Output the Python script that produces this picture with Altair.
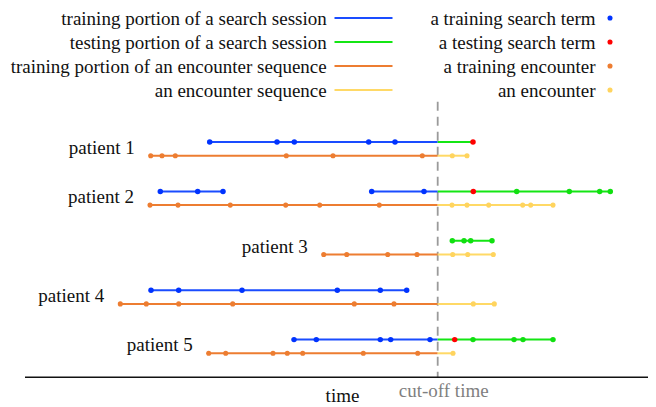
import altair as alt
import pandas as pd

FONT = "Liberation Serif"
CUTOFF = 437.7

patients = ["patient 1", "patient 2", "patient 3", "patient 4", "patient 5"]

# search sessions (times of search terms), one list per session
search_sessions = {
    "patient 1": [[209.7, 277.0, 294.3, 368.7, 395.0, 473.0]],
    "patient 2": [[160.3, 197.7, 223.0],
                  [371.7, 424.0, 473.3, 516.7, 569.3, 599.7, 610.3]],
    "patient 3": [[452.3, 464.0, 470.7, 492.0]],
    "patient 4": [[151.0, 178.7, 242.0, 337.3, 380.3, 406.7]],
    "patient 5": [[294.0, 316.3, 380.3, 390.7, 430.0, 454.7, 473.0, 514.0, 523.0, 553.0]],
}

# encounter times
encounters = {
    "patient 1": [150.7, 162.0, 175.3, 286.3, 333.0, 422.3, 452.3, 467.0],
    "patient 2": [150.0, 178.0, 230.3, 285.7, 319.7, 379.3, 452.0, 467.0, 488.7, 522.7, 530.7, 553.0],
    "patient 3": [323.7, 346.7, 387.7, 417.0, 452.7, 467.7, 493.3],
    "patient 4": [120.3, 146.3, 178.7, 232.7, 354.3, 394.0, 473.3, 494.3],
    "patient 5": [208.7, 225.7, 273.0, 287.3, 302.7, 363.3, 417.7, 453.0],
}

legend_left = ["training portion of a search session",
               "testing portion of a search session",
               "training portion of an encounter sequence",
               "an encounter sequence"]
legend_left_kind = ["train_search", "test_search", "train_enc", "enc"]
legend_right = ["a training search term", "a testing search term",
                "a training encounter", "an encounter"]
legend_right_kind = ["train_term", "test_term", "train_enc_pt", "enc_pt"]

kinds = ["train_search", "test_search", "train_enc", "enc",
         "train_term", "test_term", "test_other", "train_enc_pt", "enc_pt"]
kind_colors = ["#1a4cff", "#14e614", "#ed7d31", "#ffd966",
               "#0033ff", "#ff0000", "#10e010", "#ed7d31", "#ffd45e"]
color_scale = alt.Scale(domain=kinds, range=kind_colors)

TRACK_GAP = 0.277  # search track sits above the encounter track

pts, segs, labels = [], [], []
for i, p in enumerate(patients):
    lane_s = i - TRACK_GAP
    lane_e = i
    for sess in search_sessions[p]:
        started_before = sess[0] < CUTOFF
        first_after = True
        for t in sess:
            if t < CUTOFF:
                k = "train_term"
            elif started_before and first_after:
                k = "test_term"
                first_after = False
            else:
                k = "test_other"
                first_after = False
            pts.append(dict(t=t, lane=lane_s, kind=k, grp="s"))
        s, e = sess[0], sess[-1]
        if s < CUTOFF:
            segs.append(dict(t=s, t2=min(e, CUTOFF), lane=lane_s, kind="train_search"))
        if e > CUTOFF:
            segs.append(dict(t=max(s, CUTOFF), t2=e, lane=lane_s, kind="test_search"))
    enc = encounters[p]
    for t in enc:
        pts.append(dict(t=t, lane=lane_e, kind="train_enc_pt" if t < CUTOFF else "enc_pt", grp="e"))
    if enc[0] < CUTOFF:
        segs.append(dict(t=enc[0], t2=CUTOFF, lane=lane_e, kind="train_enc"))
    if enc[-1] > CUTOFF:
        segs.append(dict(t=CUTOFF, t2=enc[-1], lane=lane_e, kind="enc"))
    labels.append(dict(t=enc[0], lane=lane_e, name=p))

pts = pd.DataFrame(pts)
segs = pd.DataFrame(segs)
labels = pd.DataFrame(labels)

xs = alt.Scale(domain=[8, 648], nice=False, zero=False)
# plot height 399: lane 0 at y=147.7, lane spacing 49.4
ys = alt.Scale(domain=[-2.99, 5.087], reverse=True, nice=False, zero=False)
X = lambda f: alt.X(f, type="quantitative", scale=xs, axis=None)
Y = alt.Y("lane:Q", scale=ys, axis=None)

lines = alt.Chart(segs).mark_rule(strokeWidth=2).encode(
    x=X("t"), x2="t2", y=Y,
    color=alt.Color("kind:N", scale=color_scale, legend=None),
)

enc_pts = alt.Chart(pts[pts.grp == "e"]).mark_circle(size=26, opacity=1).encode(
    x=X("t"), y=Y, color=alt.Color("kind:N", scale=color_scale, legend=None),
)
srch_pts = alt.Chart(pts[pts.grp == "s"]).mark_circle(size=30, opacity=1).encode(
    x=X("t"), y=Y, color=alt.Color("kind:N", scale=color_scale, legend=None),
)

names = alt.Chart(labels).mark_text(
    align="right", baseline="alphabetic", dx=-16, dy=-2, font=FONT, fontSize=19, color="#111"
).encode(x=X("t"), y=Y, text="name:N")

cut = pd.DataFrame({"t": [CUTOFF], "label": ["cut-off time"]})
cut_line = alt.Chart(cut).mark_rule(strokeDash=[9, 6], strokeWidth=1.8, color="#9a9a9a").encode(
    x=X("t"), y=alt.value(93.7), y2=alt.value(369.3)
)
cut_text = alt.Chart(cut).mark_text(
    align="center", baseline="alphabetic", dx=6, font=FONT, fontSize=19, color="#7f7f7f"
).encode(x=X("t"), y=alt.value(389.3), text="label:N")

axis_df = pd.DataFrame({"label": ["time"]})
axis_line = alt.Chart(axis_df).mark_rule(strokeWidth=1.6, color="#111").encode(
    x=alt.value(17), x2=alt.value(640), y=alt.value(369.3)
)
axis_title = alt.Chart(axis_df).mark_text(
    align="center", baseline="alphabetic", font=FONT, fontSize=19, color="#111"
).encode(x=alt.value(334.5), y=alt.value(393.5), text="label:N")

leg = pd.DataFrame({
    "row": list(range(4)),
    "left": legend_left, "lkind": legend_left_kind,
    "right": legend_right, "rkind": legend_right_kind,
})
legbase = alt.Chart(leg).transform_calculate(ly="10.0 + 24.0 * datum.row")
ly = alt.Y("ly:Q", scale=None, axis=None)
leg_ltext = legbase.mark_text(
    align="right", baseline="alphabetic", dy=7, font=FONT, fontSize=19, color="#111"
).encode(x=alt.value(318.7), y=ly, text="left:N")
leg_lines = legbase.mark_rule(strokeWidth=2).encode(
    x=alt.value(326.5), x2=alt.value(384.5), y=ly,
    color=alt.Color("lkind:N", scale=color_scale, legend=None),
)
leg_rtext = legbase.mark_text(
    align="right", baseline="alphabetic", dy=7, font=FONT, fontSize=19, color="#111"
).encode(x=alt.value(587.5), y=ly, text="right:N")
leg_dots = legbase.mark_circle(size=26, opacity=1).encode(
    x=alt.value(602), y=ly,
    color=alt.Color("rkind:N", scale=color_scale, legend=None),
)

chart = alt.layer(
    cut_line, axis_line, lines, enc_pts, srch_pts, names, cut_text, axis_title,
    leg_lines, leg_ltext, leg_rtext, leg_dots,
).properties(
    width=640, height=399, autosize=alt.AutoSizeParams(type="none"), padding=0,
    background="white",
).configure_view(stroke=None)

chart.save("out.html", embed_options={"renderer": "svg", "actions": False})
